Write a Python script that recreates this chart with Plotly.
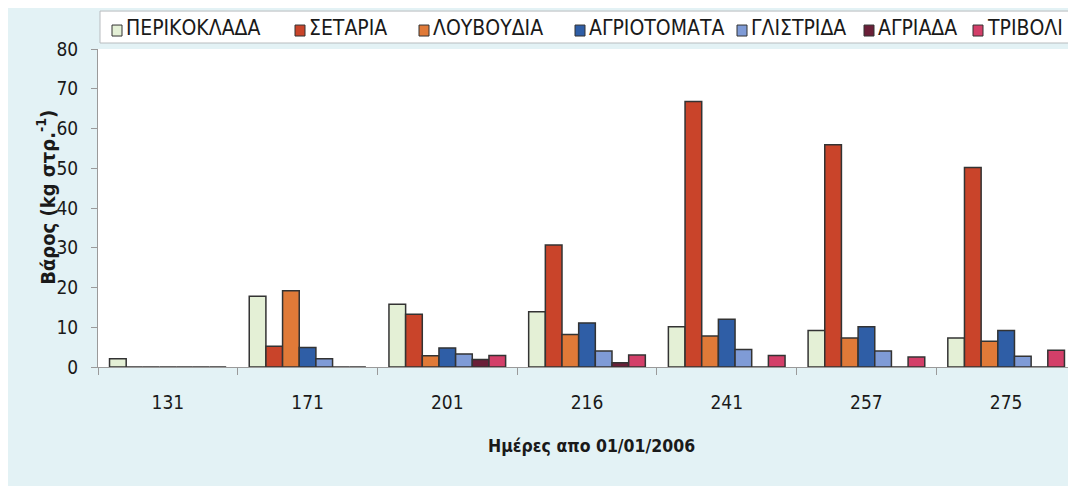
import plotly.graph_objects as go

days = ["131", "171", "201", "216", "241", "257", "275"]
series_names = ["ΠΕΡΙΚΟΚΛΑΔΑ", "ΣΕΤΑΡΙΑ", "ΛΟΥΒΟΥΔΙΑ", "ΑΓΡΙΟΤΟΜΑΤΑ", "ΓΛΙΣΤΡΙΔΑ", "ΑΓΡΙΑΔΑ", "ΤΡΙΒΟΛΙ"]
perikoklada = [2.1, 17.8, 15.8, 13.9, 10.1, 9.2, 7.3]
setaria = [0, 5.2, 13.3, 30.7, 66.8, 55.9, 50.2]
louvoudia = [0, 19.2, 2.8, 8.2, 7.8, 7.3, 6.5]
agriotomata = [0, 4.9, 4.8, 11.1, 12.0, 10.1, 9.2]
glistrida = [0, 2.1, 3.3, 4.0, 4.4, 4.0, 2.7]
agriada = [0, 0, 1.9, 1.1, 0, 0, 0]
trivoli = [0, 0, 2.9, 3.0, 2.9, 2.5, 4.2]
y_ticks = [0, 10, 20, 30, 40, 50, 60, 70, 80]

values = [perikoklada, setaria, louvoudia, agriotomata, glistrida, agriada, trivoli]
colors = ["#e4f0d6", "#c9442a", "#e07a38", "#2f5ea6", "#7f9bd6", "#6a1f38", "#d33f69"]

FONT = "Liberation Sans Narrow, DejaVu Sans Condensed, Arial Narrow, sans-serif"
OFF = 8  # page body margin
W, H = 1076 - OFF, 486 - OFF
L, R, T, B = 98 - OFF, 0, 49 - OFF, 118.5
PW = W - L - R
PH = H - T - B


def px_x(px):
    return (px - OFF - L) / PW


def px_y(py):
    return (H - B - (py - OFF)) / PH


fig = go.Figure()
for name, vals, col in zip(series_names, values, colors):
    fig.add_trace(go.Bar(
        x=days, y=vals, name=name,
        marker=dict(color=col, line=dict(color="#333333", width=1.5)),
        showlegend=False,
    ))

# custom legend (swatch + label)
legend_x = [112, 295, 419, 575, 737, 864, 973]
shapes = [dict(type="rect", xref="paper", yref="paper",
               x0=px_x(100), x1=px_x(1071), y0=px_y(43), y1=px_y(11),
               fillcolor="white", line=dict(color="#b8bcbf", width=1), layer="below")]
annotations = []
for name, col, lx in zip(series_names, colors, legend_x):
    shapes.append(dict(type="rect", xref="paper", yref="paper",
                       x0=px_x(lx), x1=px_x(lx + 10), y0=px_y(36), y1=px_y(25),
                       fillcolor=col, line=dict(color="#333333", width=1)))
    annotations.append(dict(text=name, xref="paper", yref="paper",
                            x=px_x(lx + 12), y=px_y(28), xanchor="left", yanchor="middle",
                            showarrow=False, font=dict(family=FONT, size=21, color="#1a1a1a")))

annotations.append(dict(text="<b>Ημέρες απο 01/01/2006</b>", xref="paper", yref="paper",
                        x=px_x(591), y=px_y(447), xanchor="center", yanchor="middle",
                        showarrow=False, font=dict(family=FONT, size=17.5, color="#1a1a1a")))
annotations.append(dict(text="<b>Βάρος (kg στρ.<sup>-1</sup>)</b>", xref="paper", yref="paper",
                        x=px_x(46), y=px_y(198), xanchor="center", yanchor="middle",
                        textangle=-90, showarrow=False,
                        font=dict(family=FONT, size=20, color="#1a1a1a")))

fig.update_layout(
    width=W, height=H,
    margin=dict(l=L, r=R, t=T, b=B, pad=0),
    paper_bgcolor="#e3f2f5",
    plot_bgcolor="white",
    barmode="group",
    bargap=0.165,
    bargroupgap=0,
    shapes=shapes,
    annotations=annotations,
    xaxis=dict(type="category", tickson="boundaries", ticks="outside", ticklen=7,
               tickcolor="#9a9a9a", showline=True, linecolor="#9a9a9a", linewidth=1,
               showgrid=False, tickfont=dict(family=FONT, size=19, color="#1a1a1a"),
               ticklabelstandoff=18),
    yaxis=dict(range=[0, 80], tickvals=y_ticks, ticks="outside", ticklen=6,
               tickcolor="#9a9a9a", showline=True, linecolor="#9a9a9a", linewidth=1,
               showgrid=False, zeroline=False,
               tickfont=dict(family=FONT, size=19, color="#1a1a1a"),
               ticklabelstandoff=9),
)

fig.write_html("out.html")
